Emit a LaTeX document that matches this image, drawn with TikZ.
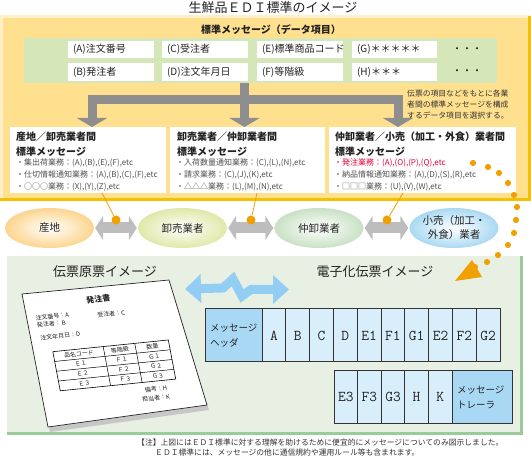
\documentclass[tikz,border=0pt]{standalone}
\usepackage{fontspec}
\setmainfont{Noto Sans CJK JP}
\usetikzlibrary{shapes.geometric,arrows.meta}
\definecolor{ylw}{HTML}{FFE08E}
\definecolor{ylwlight}{HTML}{FFF0CC}
\definecolor{ylwdark}{HTML}{F5C000}
\definecolor{pgreen}{HTML}{D5E6B8}
\definecolor{treegray}{HTML}{8E8E8E}
\definecolor{arrgray}{HTML}{BDBDBD}
\definecolor{org}{HTML}{F0A000}
\definecolor{lgreen}{HTML}{E8F0E4}
\definecolor{bgreen}{HTML}{9BCB9B}
\definecolor{lblue}{HTML}{92CEF4}
\definecolor{hblue}{HTML}{A8D8F4}
\definecolor{cblue}{HTML}{D8EEFA}
\definecolor{txt}{HTML}{222222}
\definecolor{itxt}{HTML}{505050}
\definecolor{redt}{HTML}{E60033}
\definecolor{eA}{HTML}{FCD58E}
\definecolor{eB}{HTML}{E0E8A8}
\definecolor{eC}{HTML}{C9E1C4}
\definecolor{eD}{HTML}{A9D9F2}
\newcommand\myfs[1]{\fontsize{#1}{#1}\selectfont}
\begin{document}
\begin{tikzpicture}[x=1pt,y=-1pt,
  every node/.style={text=txt},
  tn/.style={inner sep=0},
  item/.style={fill=white, minimum width=86pt, minimum height=17.5pt, text width=76pt, inner xsep=5pt, inner ysep=0, align=left, font=\myfs{10}},
  wbox/.style={fill=white, inner sep=0, anchor=north west, minimum height=66pt},
  head/.style={inner sep=0, anchor=west, font=\bfseries\myfs{10}},
  itm/.style={inner sep=0, anchor=west, font=\myfs{8}, text=itxt},
  ell/.style={ellipse, inner sep=0, minimum width=89pt, minimum height=40pt, align=center, font=\fontsize{10.5}{14}\selectfont},
  garrow/.style={draw=arrgray, line width=11pt, arrows={Triangle[width=24pt,length=8pt]-Triangle[width=24pt,length=8pt]}, shorten <=1pt, shorten >=1pt},
  tree/.style={draw=treegray, line width=9pt, line join=miter, arrows={-Triangle[width=30pt,length=9pt]}},
  odot/.style={circle, fill=org, inner sep=0, minimum size=9pt},
  oline/.style={draw=org, line width=0.8pt},
  cdot/.style={fill=org},
  cell/.style={draw=black!80, line width=1pt, fill=cblue, minimum width=23.8pt, minimum height=53pt, inner sep=0, font=\ttfamily\myfs{15}},
  hcell/.style={draw=black!80, line width=1pt, fill=hblue, minimum height=53pt, inner xsep=5pt, inner ysep=0, align=left, font=\fontsize{9.5}{15}\selectfont},
  note/.style={inner sep=0, anchor=west, font=\myfs{7.8}, text=black!80},
  slip/.style={transform shape, inner sep=0, font=\myfs{6}}
]
\useasboundingbox (0,0) rectangle (531,462);
\fill[white] (0,0) rectangle (531,462);

% title
\node[tn, font=\myfs{13}] (title) at (273,8) {生鮮品ＥＤＩ標準のイメージ};

% yellow panel
\fill[ylwlight] (0,15) rectangle (531,201);
\fill[ylw] (3,18) rectangle (528,198);
\draw[ylwdark, line width=3pt, line join=miter] (529.5,16) -- (529.5,199.5) -- (0,199.5);
\node[tn, font=\bfseries\myfs{10}] (stdtitle) at (271,30) {標準メッセージ（データ項目）};
\node[fill=pgreen, inner sep=0, minimum width=473pt, minimum height=45pt] (ipanel) at (260.5,60.5) {};

\node[item] (iA) at (111,49.7) {(A)注文番号};
\node[item] (iC) at (205,49.7) {(C)受注者};
\node[item] (iE) at (300,49.7) {(E)標準商品コード};
\node[item, minimum width=85pt, text width=75pt] (iG) at (394.5,49.7) {(G)＊＊＊＊＊};
\node[item] (iB) at (111,72) {(B)発注者};
\node[item] (iD) at (205,72) {(D)注文年月日};
\node[item] (iF) at (300,72) {(F)等階級};
\node[item, minimum width=85pt, text width=75pt] (iH) at (394.5,72) {(H)＊＊＊};
\node[tn, font=\myfs{10}] (dots1) at (467,49.7) {・・・};
\node[tn, font=\myfs{10}] (dots2) at (467,72) {・・・};

% side note
\node[note] (sn1) at (407,93.5) {伝票の項目などをもとに各業};
\node[note] (sn2) at (407,104.5) {者間の標準メッセージを構成};
\node[note] (sn3) at (407,115.5) {するデータ項目を選択する。};

% message boxes
\node[wbox, minimum width=156pt] (box1) at (10,127) {};
\node[wbox, minimum width=155pt] (box2) at (170,127) {};
\node[wbox, minimum width=187pt] (box3) at (329,127) {};

% tree arrows
\coordinate (s0) at (244.5,83);
\coordinate (s1) at (244.5,99.5);
\coordinate (t1) at (92,127);
\coordinate (t2) at (244.5,127);
\coordinate (t3) at (398,127);
\draw[tree] (s1) -| (t1);
\draw[tree] (s1) -| (t3);
\draw[tree] (s0) -- (t2);

\node[head] (h1a) at (16,137) {産地／卸売業者間};
\node[head] (h1b) at (16,152) {標準メッセージ};
\node[itm] (a11) at (16,163) {・集出荷業務：(A),(B),(E),(F),etc};
\node[itm] (a12) at (16,175) {・仕切情報通知業務：(A),(B),(C),(F),etc};
\node[itm] (a13) at (16,187) {・○○○業務：(X),(Y),(Z),etc};

\node[head] (h2a) at (177,137) {卸売業者／仲卸業者間};
\node[head] (h2b) at (177,152) {標準メッセージ};
\node[itm] (a21) at (176,163) {・入荷数量通知業務：(C),(L),(N),etc};
\node[itm] (a22) at (176,175) {・請求業務：(C),(J),(K),etc};
\node[itm] (a23) at (176,187) {・△△△業務：(L),(M),(N),etc};

\node[head] (h3a) at (335,137) {仲卸業者／小売（加工・外食）業者間};
\node[head] (h3b) at (335,152) {標準メッセージ};
\node[itm, text=redt] (a31) at (334,163) {・発注業務：(A),(O),(P),(Q),etc};
\node[itm] (a32) at (334,175) {・納品情報通知業務：(A),(D),(S),(R),etc};
\node[itm] (a33) at (334,187) {・□□□業務：(U),(V),(W),etc};

% lower green panel
\fill[lgreen] (7,256) rectangle (521,433);
\draw[bgreen, line width=3pt, line join=miter] (521.5,256) -- (521.5,433.5) -- (7,433.5);

% ellipses
\node[ell, inner color=white, outer color=eA] (e1) at (49.5,228) {産地};
\node[ell, inner color=white, outer color=eB] (e2) at (182.5,228) {卸売業者};
\node[ell, inner color=white, outer color=eC] (e3) at (319,228) {仲卸業者};
\node[ell, inner color=white, outer color=eD] (e4) at (454,228) {小売（加工・\\外食）業者};

\draw[garrow] (e1.east) -- (e2.west);
\draw[garrow] (e2.east) -- (e3.west);
\draw[garrow] (e3.east) -- (e4.west);

\coordinate (b1) at (102,193);
\coordinate (b2) at (257,193);
\coordinate (b3) at (403,193);
\node[odot] (d1) at (116,220) {};
\node[odot] (d2) at (251,220) {};
\node[odot] (d3) at (387,220) {};
\draw[oline] (d1) -- (b1);
\draw[oline] (d2) -- (b2);
\draw[oline] (d3) -- (b3);

% dotted chain
\foreach \p in {(473,163),(488,167),(499,173),(508,183),(514,195),(517,207),(516,220),(514,233),(508,245),(498,255),(487,262),(475,267)}
  \fill[cdot] \p circle (3.1);
\fill[org] (455,281) -- (472,260) -- (482,277) -- cycle;

% panel titles
\node[tn, font=\myfs{13}] (ttl1) at (105,272) {伝票原票イメージ};
\node[tn, font=\myfs{13}] (ttl2) at (375,272) {電子化伝票イメージ};

% blue double arrow
\draw[lblue, line width=9pt, line join=miter, arrows={Triangle[width=28pt,length=16pt]-Triangle[width=28pt,length=16pt]}]
  (185,289) -- (223,288) -- (233,279) -- (242,296) -- (251,289.5) -- (289,289.5);

% slip
\fill[black!22] (24,299) -- (171,285) -- (209,410) -- (50,432) -- cycle;
\filldraw[fill=white, draw=black!85, line width=0.7pt] (22,294) -- (169,280) -- (207,405) -- (48,427) -- cycle;
\begin{scope}[cm={0.987,0.1,-0.185,0.978,(22,295)}]
  \node[slip, font=\bfseries\myfs{8}] (sl0) at (75,12) {発注書};
  \node[slip, anchor=west] (sl1) at (9,24.5) {注文番号：A};
  \node[slip, anchor=west] (sl2) at (9,32) {発注者：\,B};
  \node[slip, anchor=west] (sl3) at (71,28) {受注者：C};
  \node[slip, anchor=west] (sl4) at (10,45) {注文年月日：D};
  \draw[line width=0.6pt] (20,60) rectangle (137,100);
  \foreach \v in {70,80,90} \draw[line width=0.5pt] (20,\v) -- (137,\v);
  \draw[line width=0.5pt] (71,60) -- (71,100);
  \draw[line width=0.5pt] (103,60) -- (103,100);
  \node[slip] at (45.5,65) {品名コード};
  \node[slip] at (87,65) {等階級};
  \node[slip] at (120,65) {数量};
  \node[slip] at (45.5,75) {Ｅ１};
  \node[slip] at (87,75) {Ｆ１};
  \node[slip] at (120,75) {Ｇ１};
  \node[slip] at (45.5,85) {Ｅ２};
  \node[slip] at (87,85) {Ｆ２};
  \node[slip] at (120,85) {Ｇ２};
  \node[slip] at (45.5,95) {Ｅ３};
  \node[slip] at (87,95) {Ｆ３};
  \node[slip] at (120,95) {Ｇ３};
  \node[slip, anchor=east] (sl5) at (127,108) {備考：H};
  \node[slip, anchor=east] (sl6) at (128,117) {担当者：K};
\end{scope}

% electronic slip
\node[hcell, minimum width=57pt, text width=47pt] (hdr) at (233.5,335.5) {メッセージ\\ヘッダ};
\foreach \t [count=\i] in {A,B,C,D,E1,F1,G1,E2,F2,G2}
  \node[cell] (ra\i) at ({262+(\i-0.5)*23.8},335.5) {\t};
\foreach \t [count=\i] in {E3,F3,G3,H,K}
  \node[cell, minimum width=23.6pt] (rb\i) at ({334+(\i-0.5)*23.6},397) {\t};
\node[hcell, minimum width=60pt, text width=50pt] (trl) at (482,397) {メッセージ\\トレーラ};

% footnote
\node[note] (fn1) at (137,443) {【注】上図にはＥＤＩ標準に対する理解を助けるために便宜的にメッセージについてのみ図示しました。};
\node[note] (fn2) at (155,453) {ＥＤＩ標準には、メッセージの他に通信規約や運用ルール等も含まれます。};
\end{tikzpicture}
\end{document}
